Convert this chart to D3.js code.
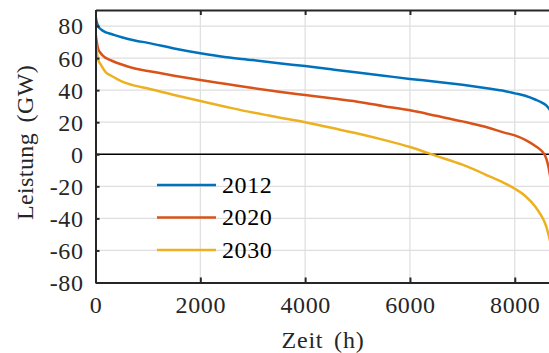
<!DOCTYPE html>
<html>
<head>
<meta charset="utf-8">
<script src="https://cdn.jsdelivr.net/npm/d3@7"></script>
<style>
  body { margin: 0; background: #fff; }
  svg { display: block; }
  svg text { font-family: "Liberation Serif", serif; }
</style>
</head>
<body>
<div id="chart"></div>
<script>
// load duration curves, hours of the year
const hours = [0, 20, 50, 100, 200, 300, 500, 750, 1000, 1500, 2000, 2500, 3000, 3500, 4000,
  4500, 5000, 5500, 6000, 6500, 7000, 7500, 7800, 8000, 8200, 8400, 8500, 8600, 8650, 8700, 8760];
const load2012 = [87, 83, 80, 78, 76, 75, 73, 71, 69.5, 66, 63, 60.5, 58.8, 56.8, 55,
  53, 51, 49, 47, 45.3, 43.3, 41, 39.5, 38, 36.5, 34, 32.5, 30.5, 28.5, 26, 22];
const load2020 = [76, 71, 66, 63, 60, 58.5, 56, 53.5, 52, 49, 46.3, 43.8, 41.3, 39, 37,
  35, 32.8, 30, 27.4, 24, 20.5, 16.5, 13.5, 11.8, 9, 5, 2.5, -2.5, -9, -20, -40];
const load2030 = [71, 65, 59, 56, 51, 49, 45.5, 42.8, 41, 37, 33.2, 29.5, 26, 23, 20,
  16.5, 13, 9, 4.5, -1, -6.5, -13.5, -18, -21.5, -26, -33, -38, -45, -51, -58, -70];
const seriesNames = ["2012", "2020", "2030"];
const xTicks = [0, 2000, 4000, 6000, 8000];
const yTicks = [-80, -60, -40, -20, 0, 20, 40, 60, 80];

const W = 549, H = 353;
const margin = { top: 10, left: 95.5 },
      width = 459.1,
      height = 272.5;

const svg = d3.select("#chart").append("svg")
  .attr("width", W)
  .attr("height", H);

const g = svg.append("g")
  .attr("transform", `translate(${margin.left},${margin.top})`);

const x = d3.scaleLinear().domain([0, 8760]).range([0, width]);
const y = d3.scaleLinear().domain([-80, 90]).range([height, 0]);
const color = d3.scaleOrdinal().domain(seriesNames).range(["#0072BD", "#D95319", "#EDB120"]);

// grid
g.append("g").selectAll("line")
  .data(xTicks.filter(d => d > 0))
  .enter().append("line")
  .attr("x1", d => x(d)).attr("x2", d => x(d))
  .attr("y1", 0).attr("y2", height)
  .attr("stroke", "#dedede").attr("stroke-width", 1.2);
g.append("g").selectAll("line")
  .data(yTicks)
  .enter().append("line")
  .attr("x1", 0).attr("x2", width)
  .attr("y1", d => y(d)).attr("y2", d => y(d))
  .attr("stroke", "#dedede").attr("stroke-width", 1.2);

// zero line
g.append("line")
  .attr("x1", 0).attr("x2", width)
  .attr("y1", y(0)).attr("y2", y(0))
  .attr("stroke", "#000").attr("stroke-width", 1.3);

// curves
g.append("clipPath").attr("id", "clip")
  .append("rect").attr("width", width).attr("height", height);

const series = [load2012, load2020, load2030].map((vals, i) => ({
  name: seriesNames[i],
  values: hours.map((h, j) => ({ h, v: vals[j] }))
}));

const line = d3.line()
  .x(d => x(d.h))
  .y(d => y(d.v))
  .curve(d3.curveMonotoneX);

g.append("g").attr("clip-path", "url(#clip)")
  .selectAll("path")
  .data(series)
  .enter().append("path")
  .attr("d", d => line(d.values))
  .attr("fill", "none")
  .attr("stroke", d => color(d.name))
  .attr("stroke-width", 2.5);

// axes
const axisColor = "#262626";
const fontSize = "24px";

const xAxis = g.append("g")
  .attr("transform", `translate(0,${height})`)
  .call(d3.axisBottom(x).tickValues(xTicks).tickSizeInner(-5).tickSizeOuter(0).tickPadding(10).tickFormat(d => String(d)));
const xTop = g.append("g")
  .call(d3.axisTop(x).tickValues(xTicks).tickSizeInner(-5).tickSizeOuter(0).tickFormat(""));
const yAxis = g.append("g")
  .call(d3.axisLeft(y).tickValues(yTicks).tickSizeInner(-4).tickSizeOuter(0).tickPadding(12).tickFormat(d => String(d)));

[xAxis, xTop, yAxis].forEach(a => {
  a.attr("font-family", null).attr("font-size", null);
  a.select(".domain").attr("stroke", axisColor).attr("stroke-width", 2);
  a.selectAll(".tick line").attr("stroke", axisColor).attr("stroke-width", 2);
  a.selectAll("text")
    .attr("fill", axisColor)
    .style("font-family", "'Liberation Serif', serif")
    .style("font-size", fontSize)
    .style("letter-spacing", "0.6px");
});
xAxis.selectAll("text").attr("dy", "0.85em");
yAxis.selectAll("text").attr("dy", "0.33em");

// legend
const legend = g.append("g")
  .attr("transform", `translate(${157 - margin.left},${185 - margin.top})`);
seriesNames.forEach((name, i) => {
  const row = legend.append("g").attr("transform", `translate(0,${i * 32.5})`);
  row.append("line")
    .attr("x1", 0).attr("x2", 59)
    .attr("stroke", color(name)).attr("stroke-width", 2.5);
  row.append("text")
    .attr("x", 65).attr("y", 0).attr("dy", "0.33em")
    .attr("fill", "#000")
    .style("font-size", fontSize)
    .style("letter-spacing", "0.6px")
    .text(name);
});

// labels
svg.append("text")
  .attr("x", 323).attr("y", 348)
  .attr("text-anchor", "middle")
  .attr("fill", axisColor)
  .style("font-size", fontSize)
  .style("letter-spacing", "0.8px")
  .style("word-spacing", "4px")
  .text("Zeit (h)");

svg.append("text")
  .attr("transform", `translate(33,142.5) rotate(-90)`)
  .attr("text-anchor", "middle")
  .attr("fill", axisColor)
  .style("font-size", fontSize)
  .style("letter-spacing", "0.4px")
  .style("word-spacing", "4px")
  .text("Leistung (GW)");
</script>
</body>
</html>
